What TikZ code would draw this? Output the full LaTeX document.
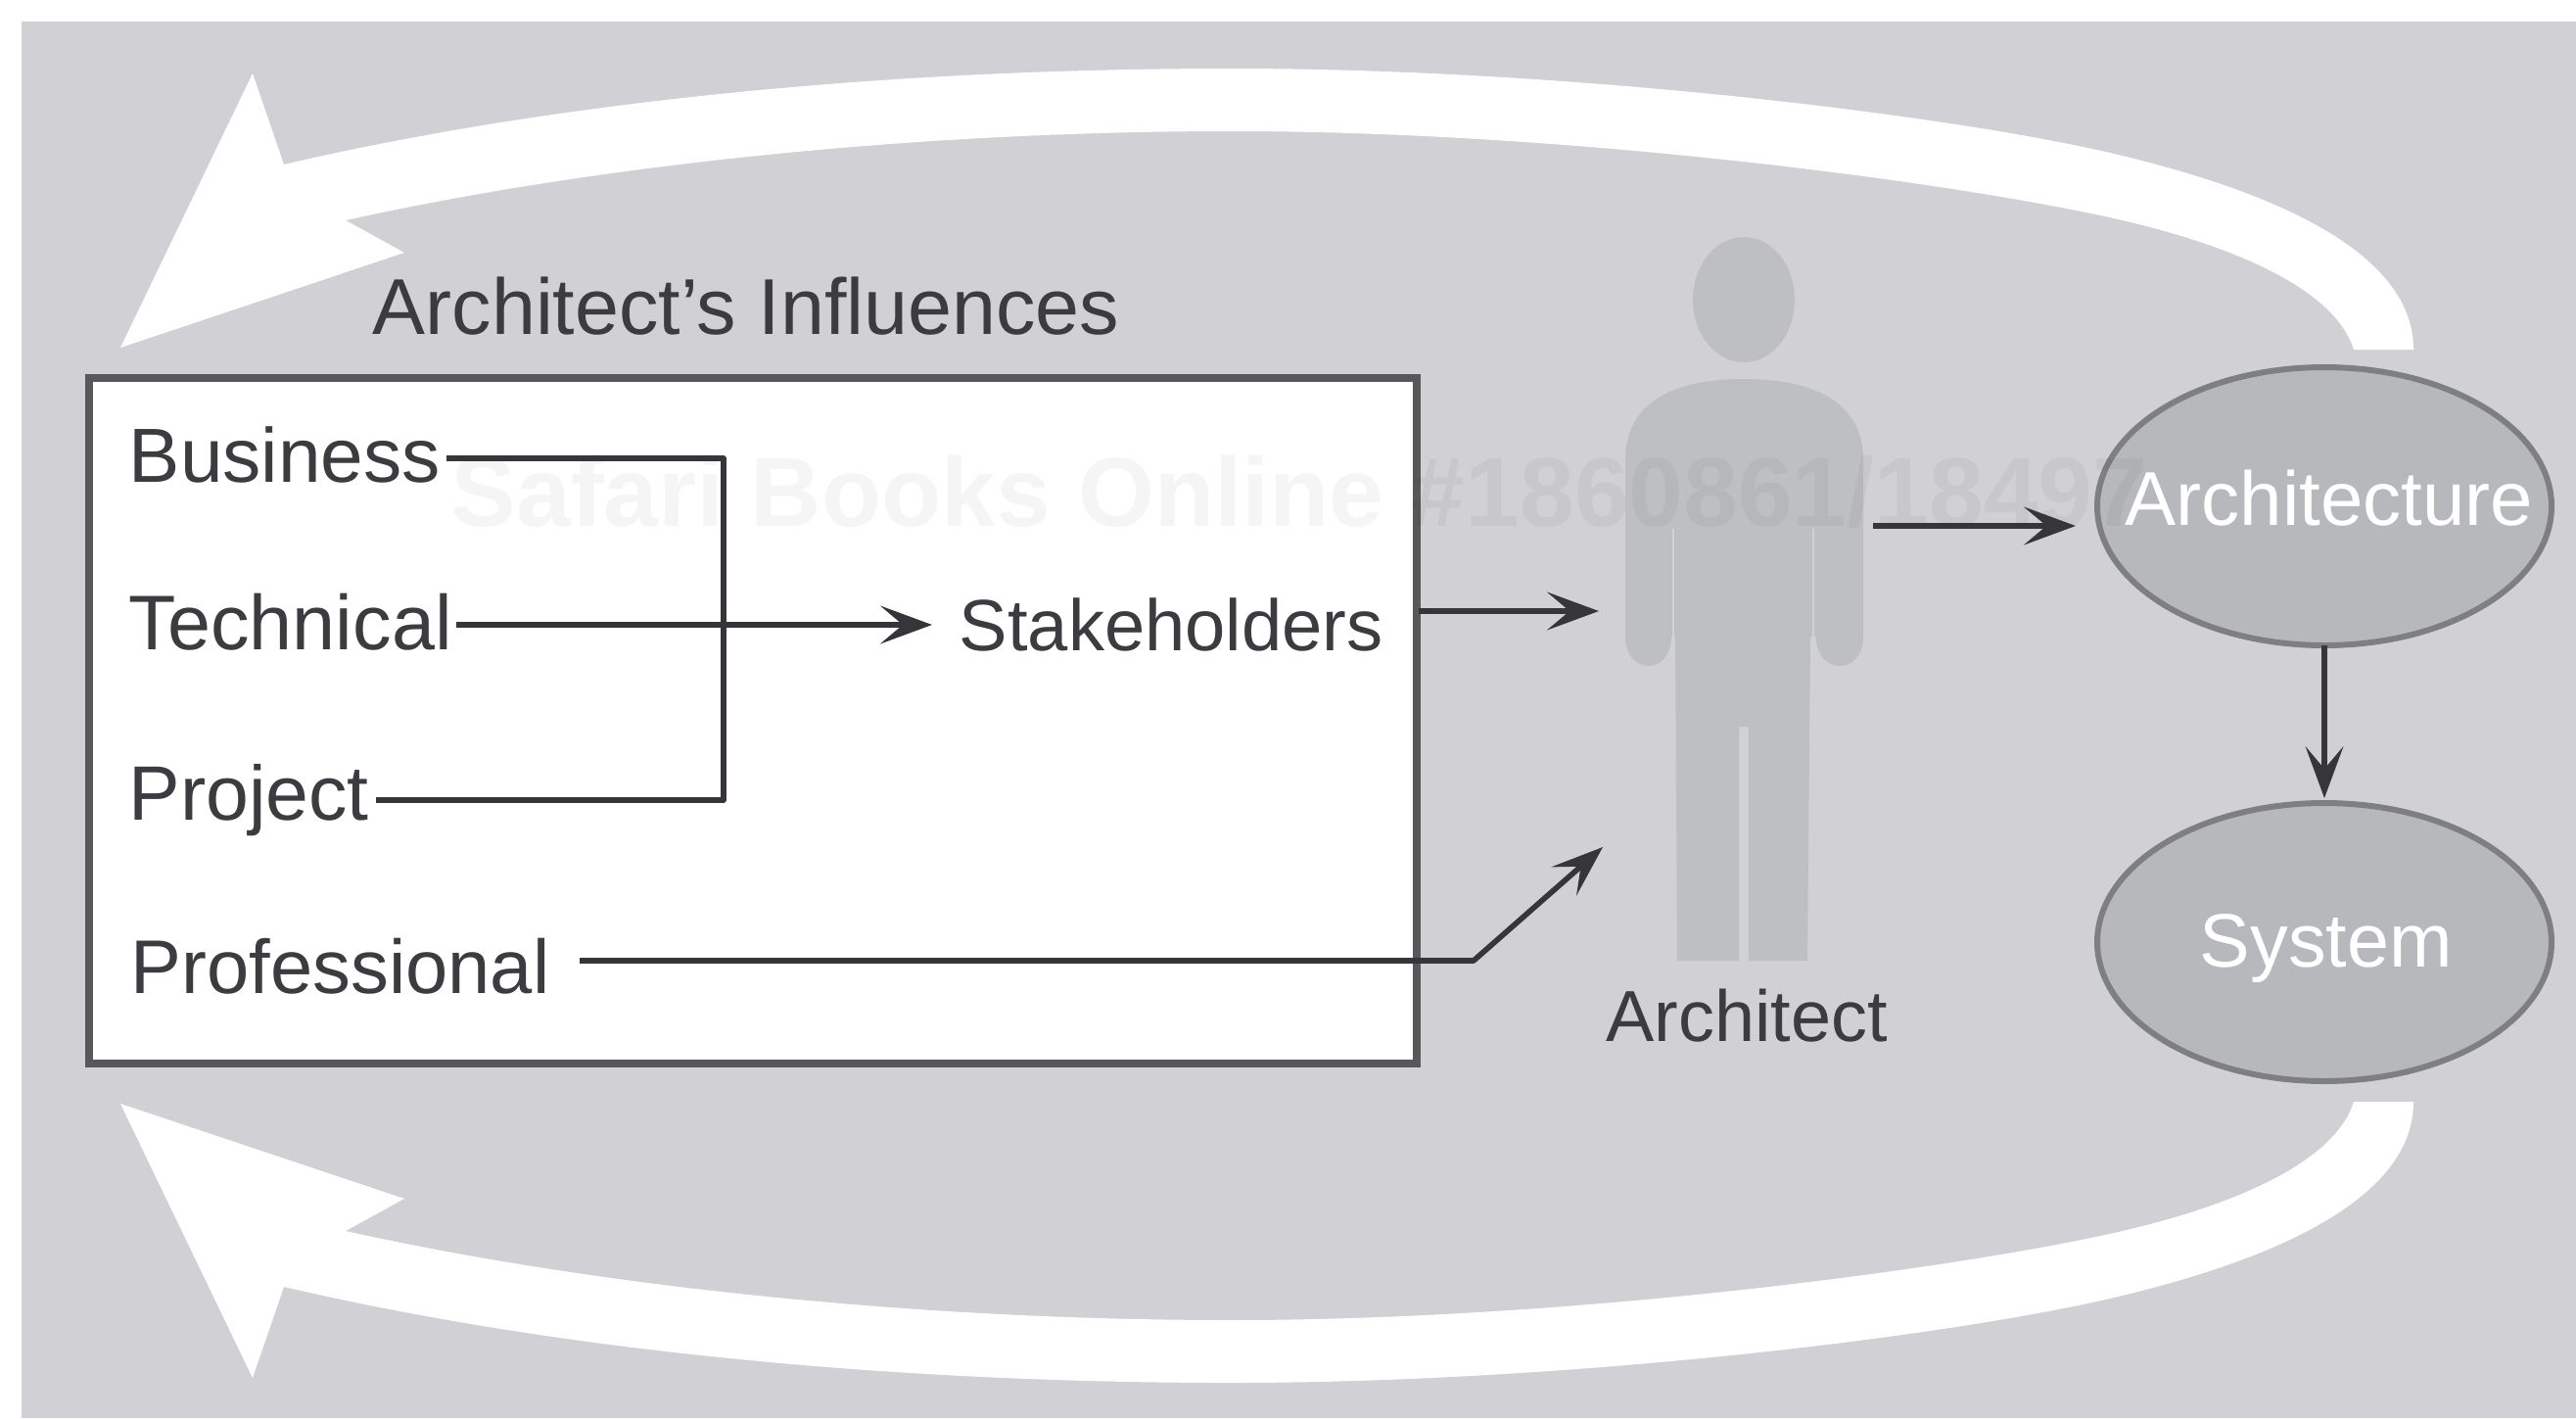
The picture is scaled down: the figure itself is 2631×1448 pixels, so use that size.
\documentclass[tikz,border=0pt]{standalone}
\usepackage{fontspec}
\setmainfont{Liberation Sans}
\usetikzlibrary{arrows.meta}
\definecolor{bgGray}{HTML}{D1D1D5}
\definecolor{figGray}{HTML}{BEBFC3}
\definecolor{ellFill}{HTML}{B6B8BB}
\definecolor{ellLine}{HTML}{7E7F83}
\definecolor{inkDark}{HTML}{3C3C40}
\definecolor{lineDark}{HTML}{36363A}
\definecolor{boxLine}{HTML}{58585A}
\tikzset{
  x=0.01cm, y=-0.01cm,
  labeltext/.style={inner sep=0pt, anchor=base west, text=inkDark, font=\fontsize{#1}{#1}\selectfont},
  conn/.style={draw=lineDark, line width=1.5pt, line join=round},
  arrowconn/.style={conn, line width=#1, -{Stealth[length=15pt,width=11pt,inset=6.5pt]}},
  arrowconn/.default=1.9pt,
  bigarrow/.style={fill=white, draw=none},
  figure/.style={fill=figGray, draw=none},
  ovalshape/.style={draw=ellLine, line width=1.7pt, fill=ellFill},
}
\newcommand{\sweeppath}{%
  \path[bigarrow] (2465,357)
  .. controls (2465,260) and (2329,197) .. (2159,157)
  .. controls (1989,117) and (1600,70) .. (1258,70)
  .. controls (900,70) and (560,105) .. (290,168)
  -- (258,75) -- (123,355) -- (413,258) -- (353,225)
  .. controls (600,170) and (930,134) .. (1258,134)
  .. controls (1600,134) and (1989,185) .. (2159,223)
  .. controls (2280,250) and (2385,295) .. (2404,357) -- cycle;}
\begin{document}
\begin{tikzpicture}
\useasboundingbox (0,0) rectangle (2631,1448);
\fill[white] (0,0) rectangle (2631,1448);
\fill[bgGray] (22,22) rectangle (2631,1448);
% sweeping arrows
\sweeppath
\begin{scope}[shift={(0,1482)}, yscale=-1]
\sweeppath
\end{scope}
% influences box
\draw[draw=boxLine, line width=2.3pt, fill=white] (91,386) rectangle (1447,1086);
% architect figure
\fill[figure] (1781,306) ellipse [x radius=52, y radius=64];
\path[figure] (1660,470)
  .. controls (1660,410) and (1710,387) .. (1781,387)
  .. controls (1852,387) and (1903,410) .. (1903,470)
  -- (1903,650) .. controls (1903,690) and (1855,690) .. (1855,650)
  -- (1849,650) -- (1846,981) -- (1786,981) -- (1786,742) -- (1776,742) -- (1776,981) -- (1713,981)
  -- (1711,650) -- (1707,650)
  .. controls (1707,690) and (1660,690) .. (1660,650) -- cycle;
\draw[bgGray, line width=0.6pt] (1709,540) -- (1709,652);
\draw[bgGray, line width=0.6pt] (1852,540) -- (1852,652);
% ovals
\path[ovalshape] (2374,517) ellipse [x radius=232, y radius=142];
\path[ovalshape] (2374,962) ellipse [x radius=232, y radius=142];
\coordinate (archBot) at (2374,659);
\coordinate (sysTop) at (2374,815);
% watermark
\node[inner sep=0pt, anchor=base west, text=black, text opacity=0.04, font=\fontsize{28.5}{30}\bfseries\selectfont] (mark) at (460,537) {Safari Books Online \#1860861/18497};
% labels
\node[labeltext=23] (title) at (380,341) {Architect’s Influences};
\node[labeltext=22.3] (business) at (131,492) {Business};
\node[labeltext=22.5] (technical) at (131,663) {Technical};
\node[labeltext=22.4] (project) at (131,837) {Project};
\node[labeltext=22.1] (professional) at (133,1014) {Professional};
\node[labeltext=21.1] (stake) at (979,664) {Stakeholders};
\node[labeltext=21] (architect) at (1640,1063) {Architect};
\node[labeltext=22.2, text=white] (archtxt) at (2170,536) {Architecture};
\node[labeltext=22, text=white] (systxt) at (2246,987) {System};
% connector ends
\coordinate (busOut) at (456,468);
\coordinate (busCorner) at (739,468);
\coordinate (projCorner) at (739,817);
\coordinate (projOut) at (384,817);
\coordinate (techOut) at (466,638);
\coordinate (stakeIn) at (952,638);
\coordinate (stakeOut) at (1449,624);
\coordinate (figIn) at (1633,624);
\coordinate (figOut) at (1913,537);
\coordinate (archIn) at (2120,537);
\coordinate (profOut) at (592,981);
\coordinate (profBend) at (1505,981);
\coordinate (figLow) at (1637,865);
% connectors
\draw[conn] (busOut) -- (busCorner) -- (projCorner) -- (projOut);
\draw[arrowconn] (techOut) -- (stakeIn);
\draw[arrowconn] (stakeOut) -- (figIn);
\draw[arrowconn] (figOut) -- (archIn);
\draw[arrowconn=1.5pt] (archBot) -- (sysTop);
\draw[arrowconn=1.6pt] (profOut) -- (profBend) -- (figLow);
\end{tikzpicture}
\end{document}
